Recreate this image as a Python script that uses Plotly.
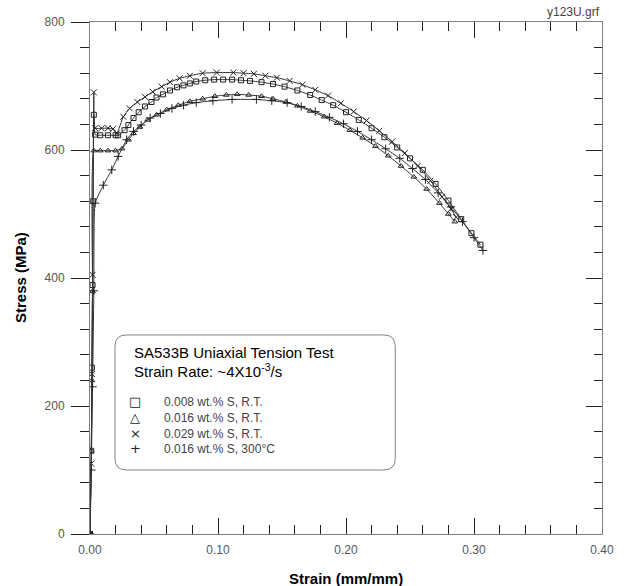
import plotly.graph_objects as go

# ---- data (strain mm/mm, stress MPa) ----
sq_strain = [0.0, 0.001, 0.0015, 0.002, 0.0025, 0.003, 0.004, 0.008, 0.014, 0.020, 0.022, 0.027, 0.030, 0.034, 0.038, 0.043, 0.048, 0.052,
             0.057, 0.0625, 0.068, 0.073, 0.078, 0.083, 0.090, 0.097, 0.104, 0.111, 0.118, 0.125, 0.134, 0.143, 0.152, 0.162,
             0.172, 0.181, 0.190, 0.200, 0.210, 0.220, 0.230, 0.240, 0.250, 0.260, 0.270, 0.280, 0.290, 0.298, 0.305]
sq_stress = [0, 130, 260, 389, 520, 655, 624, 623, 623, 623, 623, 631, 639, 650, 659, 668, 675, 682,
             687, 693, 698, 701, 704, 707, 709, 710, 710, 710, 709, 708, 706, 703, 699, 693,
             686, 678, 670, 659, 647, 634, 620, 604, 587, 569, 547, 521, 492, 470, 452]

tr_strain = [0.0, 0.001, 0.0015, 0.002, 0.003, 0.008, 0.014, 0.020, 0.025, 0.030, 0.034, 0.039, 0.045, 0.052, 0.060, 0.069,
             0.078, 0.088, 0.0975, 0.1065, 0.115, 0.124, 0.134, 0.143, 0.153, 0.162, 0.172, 0.183, 0.193, 0.203, 0.213,
             0.223, 0.233, 0.243, 0.253, 0.263, 0.273, 0.280, 0.285]
tr_stress = [0, 130, 240, 379, 599, 599, 599, 599, 602, 616, 626, 636, 647, 655, 663, 670,
             676, 680, 684, 686, 687, 686, 684, 680, 675, 669, 661, 652, 642, 631, 619,
             606, 591, 575, 558, 539, 517, 500, 488]

x_strain = [0.0, 0.001, 0.0015, 0.002, 0.003, 0.004, 0.009, 0.014, 0.018, 0.021, 0.026, 0.031, 0.037, 0.043, 0.049, 0.056,
            0.0625, 0.070, 0.078, 0.088, 0.099, 0.112, 0.120, 0.128, 0.137, 0.146, 0.156, 0.166, 0.176, 0.186, 0.196,
            0.206, 0.216, 0.226, 0.236, 0.246, 0.256, 0.266, 0.275, 0.282, 0.286]
x_stress = [0, 110, 250, 405, 690, 634, 634, 634, 633, 626, 652, 665, 675, 683, 691, 699,
            706, 712, 716, 720, 721, 721, 720, 719, 716, 713, 708, 702, 694, 685, 673,
            660, 646, 630, 613, 595, 575, 552, 527, 508, 495]

pl_strain = [0.0, 0.001, 0.002, 0.003, 0.004, 0.0104, 0.017, 0.022, 0.0286, 0.034, 0.040, 0.047, 0.055, 0.064, 0.073, 0.083,
             0.096, 0.111, 0.130, 0.142, 0.154, 0.165, 0.176, 0.187, 0.198, 0.209, 0.220, 0.231, 0.242, 0.252, 0.262,
             0.272, 0.282, 0.291, 0.300, 0.307]
pl_stress = [0, 100, 230, 380, 517, 545, 569, 590, 616, 629, 639, 650, 657, 665, 670, 674,
             677, 679, 679, 677, 674, 668, 660, 651, 641, 629, 616, 602, 587, 571, 554,
             533, 511, 488, 463, 443]

legend_labels = ["0.008 wt.% S, R.T.", "0.016 wt.% S, R.T.", "0.029 wt.% S, R.T.", "0.016 wt.% S, 300\u00b0C"]
legend_symbols = ["\u25a1", "\u25b3", "\u00d7", "+"]

x_ticks = [0.0, 0.1, 0.2, 0.3, 0.4]
x_tick_text = ["0.00", "0.10", "0.20", "0.30", "0.40"]
y_ticks = [0, 200, 400, 600, 800]

FONT = "Liberation Sans, Arial, sans-serif"
LINE = "#333333"
AX = "#7f7f7f"

fig = go.Figure()
series = [
    (sq_strain, sq_stress, "square-open", 5),
    (tr_strain, tr_stress, "triangle-up-open", 5),
    (x_strain, x_stress, "x-thin-open", 6),
    (pl_strain, pl_stress, "cross-thin-open", 6),
]
for xs, ys, sym, sz in series:
    fig.add_trace(go.Scatter(
        x=xs, y=ys, mode="lines+markers", showlegend=False,
        line=dict(color=LINE, width=1, shape="spline", smoothing=0.4),
        marker=dict(symbol=sym, size=sz, color="#222222", line=dict(width=1, color="#222222")),
        hoverinfo="skip",
    ))

# invisible trace for secondary (top/right) axes
fig.add_trace(go.Scatter(x=[0, 0.4], y=[0, 800], xaxis="x2", yaxis="y2", mode="none", showlegend=False, hoverinfo="skip"))

common = dict(showgrid=False, zeroline=False, showline=True, linecolor=AX, linewidth=1,
              tickcolor="#222222", tickwidth=1, automargin=False)
fig.update_layout(
    width=627, height=586,
    margin=dict(l=90, r=25, t=22, b=52),
    paper_bgcolor="white", plot_bgcolor="white",
    font=dict(family=FONT, size=12, color="#555555"),
    xaxis=dict(range=[0, 0.4], tickvals=x_ticks, ticktext=x_tick_text, ticks="inside", ticklen=16,
               ticklabelstandoff=5,
               minor=dict(dtick=0.02, ticks="inside", ticklen=9, tickcolor="#222222", tick0=0),
               tickfont=dict(family=FONT, size=12, color="#555555"), **common),
    yaxis=dict(range=[0, 800], tickvals=y_ticks, ticks="outside", ticklen=18, ticklabelstandoff=4,
               minor=dict(dtick=40, ticks="outside", ticklen=9, tickcolor="#222222", tick0=0),
               tickfont=dict(family=FONT, size=12, color="#555555"), **common),
    xaxis2=dict(range=[0, 0.4], overlaying="x", side="top", anchor="y2", tickvals=x_ticks, ticks="inside", ticklen=16,
                showticklabels=False, minor=dict(dtick=0.02, ticks="inside", ticklen=9, tickcolor="#222222", tick0=0), **common),
    yaxis2=dict(range=[0, 800], overlaying="y", side="right", anchor="x2", tickvals=y_ticks, ticks="inside", ticklen=16,
                showticklabels=False, minor=dict(dtick=40, ticks="inside", ticklen=8, tickcolor="#222222", tick0=0), **common),
)

# axis titles
fig.add_annotation(x=0.5, y=0, xref="paper", yref="paper", xanchor="center", yanchor="middle", yshift=-44,
                   showarrow=False, text="<b>Strain (mm/mm)</b>", font=dict(family=FONT, size=15, color="#000000"))
fig.add_annotation(x=0, y=0.5, xref="paper", yref="paper", xanchor="center", yanchor="middle", xshift=-70,
                   showarrow=False, textangle=-90, text="<b>Stress (MPa)</b>", font=dict(family=FONT, size=15, color="#000000"))

# legend box (rounded rectangle, data coordinates)
x0, x1, y0, y1 = 0.0195, 0.2385, 100, 311
r_x, r_y = 0.009, 18
path = (f"M {x0+r_x},{y1} L {x1-r_x},{y1} Q {x1},{y1} {x1},{y1-r_y} L {x1},{y0+r_y} Q {x1},{y0} {x1-r_x},{y0} "
        f"L {x0+r_x},{y0} Q {x0},{y0} {x0},{y0+r_y} L {x0},{y1-r_y} Q {x0},{y1} {x0+r_x},{y1} Z")
fig.add_shape(type="path", path=path, xref="x", yref="y", line=dict(color="#808080", width=1), fillcolor="white", layer="above")

fig.add_annotation(x=0.0325, y=283, xref="x", yref="y", xanchor="left", yanchor="middle", showarrow=False,
                   text="SA533B Uniaxial Tension Test", font=dict(family=FONT, size=15, color="#000000"))
fig.add_annotation(x=0.0325, y=255, xref="x", yref="y", xanchor="left", yanchor="middle", showarrow=False,
                   text="Strain Rate: ~4X10<sup>-3</sup>/s", font=dict(family=FONT, size=15, color="#000000"))
ys_leg = [207, 182, 157, 133]
for sym, lab, yy in zip(legend_symbols, legend_labels, ys_leg):
    fig.add_annotation(x=0.0355, y=yy, xref="x", yref="y", xanchor="center", yanchor="middle", showarrow=False,
                       text=sym, font=dict(family="DejaVu Sans, sans-serif", size=13, color="#222222"))
    fig.add_annotation(x=0.0565, y=yy, xref="x", yref="y", xanchor="left", yanchor="middle", showarrow=False,
                       text=lab, font=dict(family=FONT, size=12, color="#444444"))

fig.add_annotation(x=1.0, y=1.0, xref="paper", yref="paper", xanchor="right", yanchor="bottom", yshift=1, showarrow=False,
                   text="y123U.grf", font=dict(family=FONT, size=12, color="#444444"))

fig.write_html("out.html")
